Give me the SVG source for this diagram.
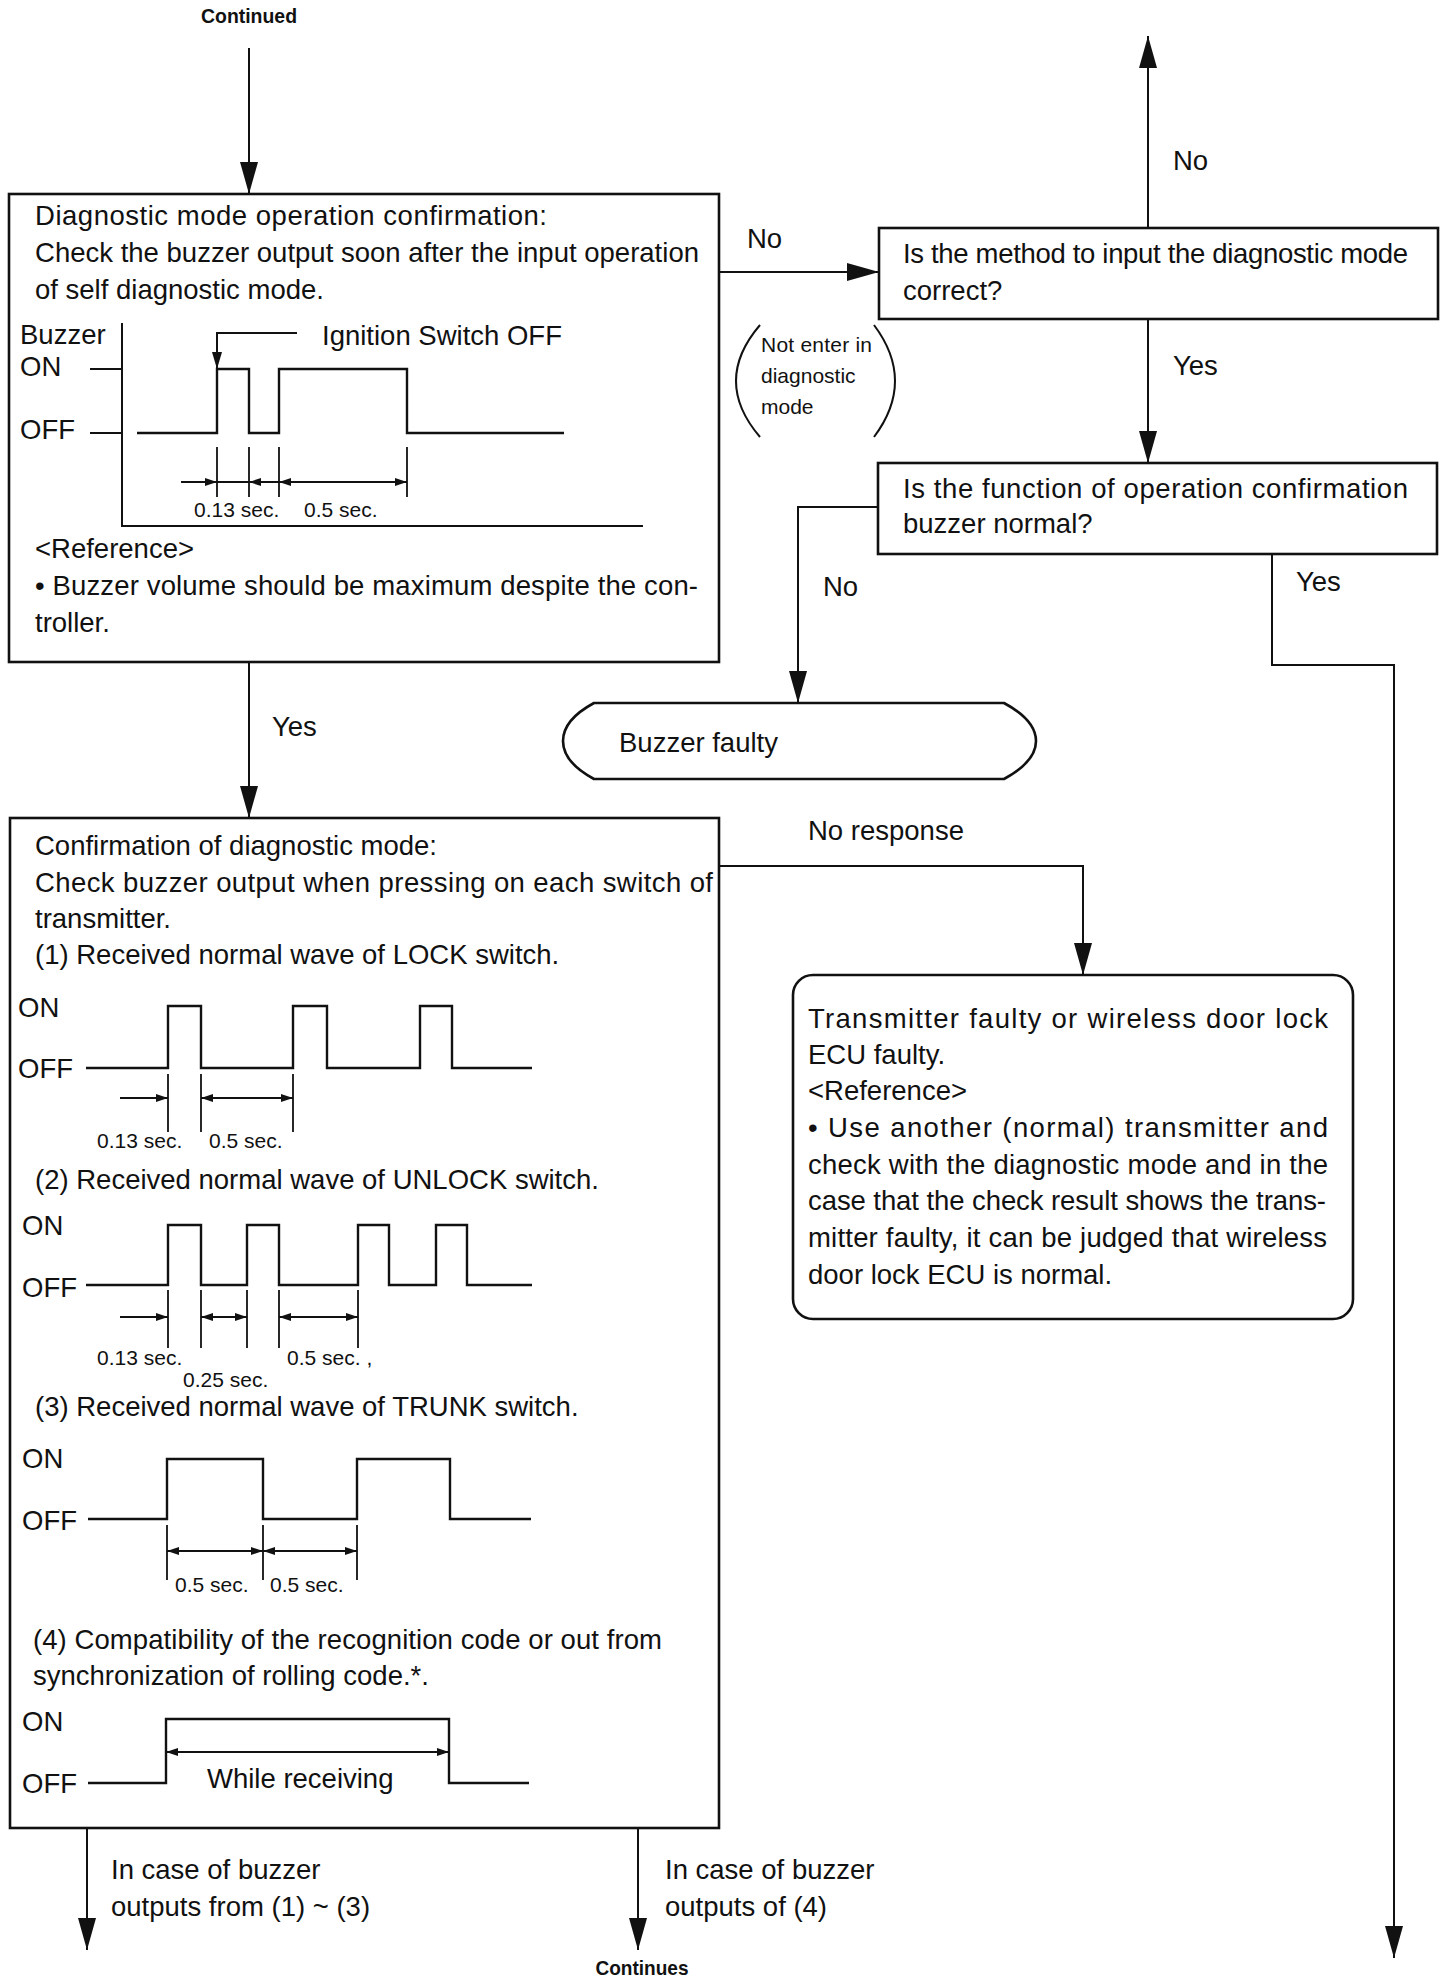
<svg xmlns="http://www.w3.org/2000/svg" width="1456" height="1982" viewBox="0 0 1456 1982">
<style>
text{font-family:"Liberation Sans",Arial,Helvetica,sans-serif;font-size:27.5px;fill:#111}
.s{font-size:21px}
.n{font-size:21px}
.b{font-weight:bold;font-size:21px}
.box{fill:none;stroke:#111;stroke-width:2.6}
.ln{fill:none;stroke:#111;stroke-width:2}
.wv{fill:none;stroke:#111;stroke-width:2.4}
.dm{fill:none;stroke:#111;stroke-width:1.8}
.ah{fill:#111}
</style>
<defs>
<marker id="ah" viewBox="0 0 32 18" refX="32" refY="9" markerWidth="32" markerHeight="18" markerUnits="userSpaceOnUse" orient="auto"><path d="M0,0 L32,9 L0,18 Z" fill="#111"/></marker>
<marker id="pa" viewBox="0 0 17 10" refX="17" refY="5" markerWidth="17" markerHeight="10" markerUnits="userSpaceOnUse" orient="auto"><path d="M0,0 L17,5 L0,10 Z" fill="#111"/></marker>
</defs>

<g id="connectors">
<path class="ln" d="M249,48 V194" marker-end="url(#ah)"/>
<path class="ln" d="M719,272 H879" marker-end="url(#ah)"/>
<path class="ln" d="M1148,228 V36" marker-end="url(#ah)"/>
<path class="ln" d="M1148,319 V463" marker-end="url(#ah)"/>
<path class="ln" d="M878,507 H798 V703" marker-end="url(#ah)"/>
<path class="ln" d="M1272,554 V665 H1394 V1958" marker-end="url(#ah)"/>
<path class="ln" d="M249,662 V818" marker-end="url(#ah)"/>
<path class="ln" d="M719,866 H1083 V975" marker-end="url(#ah)"/>
<path class="ln" d="M87,1828 V1950" marker-end="url(#ah)"/>
<path class="ln" d="M638,1828 V1950" marker-end="url(#ah)"/>
<text x="747" y="248">No</text>
<text x="1173" y="170">No</text>
<text x="1173" y="375">Yes</text>
<text x="823" y="596">No</text>
<text x="1296" y="591">Yes</text>
<text x="272" y="736">Yes</text>
<text x="808" y="840">No response</text>
<text x="111" y="1879">In case of buzzer</text>
<text x="111" y="1916">outputs from (1) ~ (3)</text>
<text x="665" y="1879">In case of buzzer</text>
<text x="665" y="1916">outputs of (4)</text>
<g id="note-not-enter">
<path class="ln" d="M760,325 Q712,381 760,437"/>
<path class="ln" d="M874,325 Q916,381 874,437"/>
<text class="n" x="761" y="352" textLength="111">Not enter in</text>
<text class="n" x="761" y="383">diagnostic</text>
<text class="n" x="761" y="414">mode</text>
</g>
</g>

<g id="continued">
<text class="b" x="249" y="23" text-anchor="middle" textLength="96" lengthAdjust="spacingAndGlyphs">Continued</text>
</g>

<g id="continues">
<text class="b" x="642" y="1975" text-anchor="middle" textLength="93" lengthAdjust="spacingAndGlyphs">Continues</text>
</g>

<g id="box-diag-op">
<rect class="box" x="9" y="194" width="710" height="468"/>
<text x="35" y="225" textLength="512">Diagnostic mode operation confirmation:</text>
<text x="35" y="262" textLength="664">Check the buzzer output soon after the input operation</text>
<text x="35" y="299">of self diagnostic mode.</text>
<text x="20" y="344">Buzzer</text>
<text x="20" y="376">ON</text>
<text x="20" y="439">OFF</text>
<path class="ln" d="M122,323 V526 H643"/>
<path class="ln" d="M90,369 H122 M90,433 H122"/>
<path class="wv" d="M137,433 H217 V369 H249 V433 H279 V369 H407 V433 H564"/>
<path class="ln" d="M297,333 H217 V369" marker-end="url(#pa)"/>
<text x="322" y="345">Ignition Switch OFF</text>
<path class="dm" d="M217,447 V497 M249,447 V497 M279,447 V497 M407,447 V497 M181,482 H407"/>
<polygon class="ah" points="217,482 205,478 205,486"/>
<polygon class="ah" points="249,482 261,478 261,486"/>
<polygon class="ah" points="279,482 291,478 291,486"/>
<polygon class="ah" points="407,482 395,478 395,486"/>
<text class="s" x="194" y="517">0.13 sec.</text>
<text class="s" x="304" y="517">0.5 sec.</text>
<text x="35" y="558">&lt;Reference&gt;</text>
<text x="35" y="595" textLength="663">• Buzzer volume should be maximum despite the con-</text>
<text x="35" y="632">troller.</text>
</g>

<g id="box-method">
<rect class="box" x="879" y="228" width="559" height="91"/>
<text x="903" y="263" textLength="505">Is the method to input the diagnostic mode</text>
<text x="903" y="300">correct?</text>
</g>

<g id="box-function">
<rect class="box" x="878" y="463" width="559" height="91"/>
<text x="903" y="498" textLength="505">Is the function of operation confirmation</text>
<text x="903" y="533">buzzer normal?</text>
</g>

<g id="buzzer-faulty">
<path class="box" d="M594,703 L1004,703 C1028,716 1036,730 1036,741 C1036,752 1028,766 1004,779 L594,779 C570,766 563,752 563,741 C563,730 570,716 594,703 Z"/>
<text x="619" y="752">Buzzer faulty</text>
</g>

<g id="box-confirm">
<rect class="box" x="10" y="818" width="709" height="1010"/>
<text x="35" y="855">Confirmation of diagnostic mode:</text>
<text x="35" y="892" textLength="678">Check buzzer output when pressing on each switch of</text>
<text x="35" y="928">transmitter.</text>
<text x="35" y="964">(1) Received normal wave of LOCK switch.</text>

<text x="18" y="1017">ON</text>
<text x="18" y="1078">OFF</text>
<path class="wv" d="M86,1068 H168 V1006 H201 V1068 H293 V1006 H327 V1068 H420 V1006 H452 V1068 H532"/>
<path class="dm" d="M168,1074 V1132 M201,1074 V1132 M293,1074 V1132 M120,1098 H168 M201,1098 H293"/>
<polygon class="ah" points="168,1098 156,1094 156,1102"/>
<polygon class="ah" points="201,1098 213,1094 213,1102"/>
<polygon class="ah" points="293,1098 281,1094 281,1102"/>
<text class="s" x="97" y="1148">0.13 sec.</text>
<text class="s" x="209" y="1148">0.5 sec.</text>

<text x="35" y="1189">(2) Received normal wave of UNLOCK switch.</text>
<text x="22" y="1235">ON</text>
<text x="22" y="1297">OFF</text>
<path class="wv" d="M86,1285 H168 V1225 H201 V1285 H247 V1225 H279 V1285 H358 V1225 H389 V1285 H436 V1225 H467 V1285 H532"/>
<path class="dm" d="M168,1290 V1348 M201,1290 V1348 M247,1290 V1348 M279,1290 V1348 M358,1290 V1348 M120,1317 H168 M201,1317 H247 M279,1317 H358"/>
<polygon class="ah" points="168,1317 156,1313 156,1321"/>
<polygon class="ah" points="201,1317 213,1313 213,1321"/>
<polygon class="ah" points="247,1317 235,1313 235,1321"/>
<polygon class="ah" points="279,1317 291,1313 291,1321"/>
<polygon class="ah" points="358,1317 346,1313 346,1321"/>
<text class="s" x="97" y="1365">0.13 sec.</text>
<text class="s" x="183" y="1387">0.25 sec.</text>
<text class="s" x="287" y="1365">0.5 sec. ,</text>

<text x="35" y="1416">(3) Received normal wave of TRUNK switch.</text>
<text x="22" y="1468">ON</text>
<text x="22" y="1530">OFF</text>
<path class="wv" d="M88,1519 H167 V1459 H263 V1519 H357 V1459 H450 V1519 H531"/>
<path class="dm" d="M167,1525 V1580 M263,1525 V1580 M357,1525 V1580 M167,1551 H357"/>
<polygon class="ah" points="167,1551 179,1547 179,1555"/>
<polygon class="ah" points="263,1551 251,1547 251,1555"/>
<polygon class="ah" points="263,1551 275,1547 275,1555"/>
<polygon class="ah" points="357,1551 345,1547 345,1555"/>
<text class="s" x="175" y="1592">0.5 sec.</text>
<text class="s" x="270" y="1592">0.5 sec.</text>

<text x="33" y="1649" textLength="629">(4) Compatibility of the recognition code or out from</text>
<text x="33" y="1685">synchronization of rolling code.*.</text>
<text x="22" y="1731">ON</text>
<text x="22" y="1793">OFF</text>
<path class="wv" d="M88,1783 H166 V1719 H449 V1783 H529"/>
<path class="dm" d="M166,1752 H449"/>
<polygon class="ah" points="166,1752 178,1748 178,1756"/>
<polygon class="ah" points="449,1752 437,1748 437,1756"/>
<text x="207" y="1788">While receiving</text>
</g>

<g id="box-transmitter">
<rect class="box" x="793" y="975" width="560" height="344" rx="20" ry="20"/>
<text x="808" y="1028" textLength="520">Transmitter faulty or wireless door lock</text>
<text x="808" y="1064">ECU faulty.</text>
<text x="808" y="1100">&lt;Reference&gt;</text>
<text x="808" y="1137" textLength="520">• Use another (normal) transmitter and</text>
<text x="808" y="1174" textLength="520">check with the diagnostic mode and in the</text>
<text x="808" y="1210" textLength="518">case that the check result shows the trans-</text>
<text x="808" y="1247" textLength="519">mitter faulty, it can be judged that wireless</text>
<text x="808" y="1284">door lock ECU is normal.</text>
</g>
</svg>
